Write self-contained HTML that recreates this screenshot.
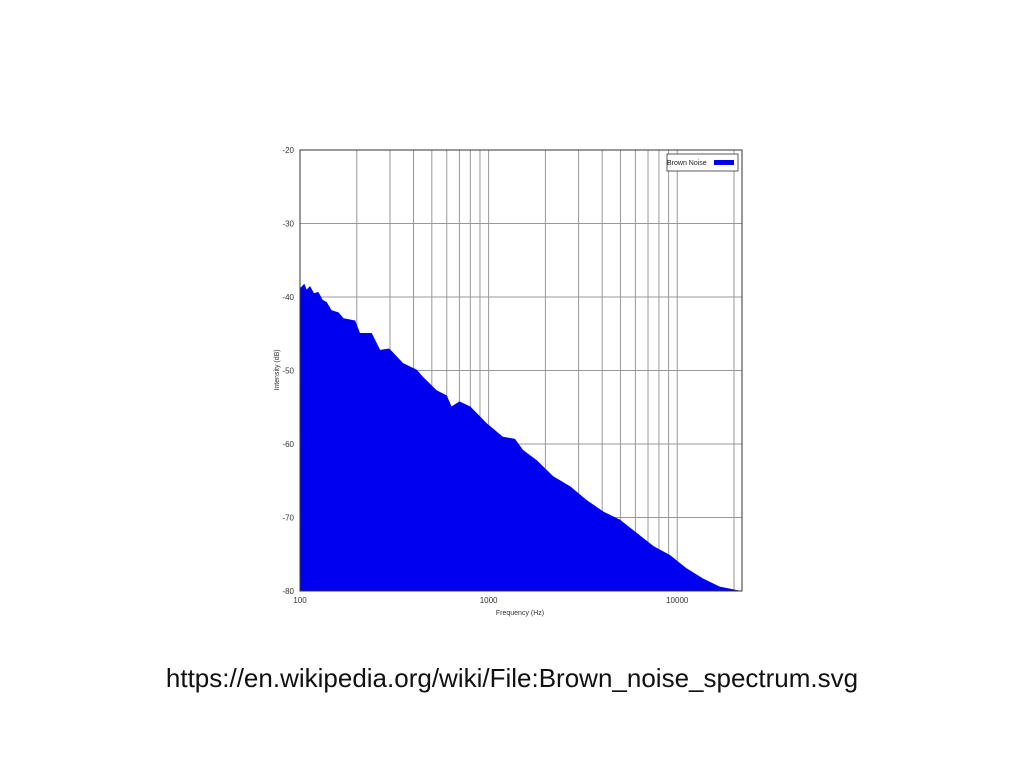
<!DOCTYPE html>
<html><head><meta charset="utf-8"><style>
body{margin:0;background:#fff;width:1024px;height:768px;overflow:hidden;font-family:"Liberation Sans",sans-serif;}
#cap{position:absolute;left:0;width:1024px;top:663px;text-align:center;font-size:26px;color:#111;}
</style></head><body>
<svg id="chart" width="1024" height="768" style="position:absolute;left:0;top:0" font-family="Liberation Sans, sans-serif"></svg>
<div id="cap">https://en.wikipedia.org/wiki/File:Brown_noise_spectrum.svg</div>
<script>
const freqs=[100,105.4,108.5,113,118.6,125,132,138.5,147,160,170,196,208,240,266,297,352,416,450,530,600,636,700,800,978,1190,1380,1520,1800,2200,2720,3300,4060,4980,6100,7500,9140,11200,13700,16800,21900];
const dbVals=[-38.8,-38.2,-39.0,-38.5,-39.5,-39.3,-40.4,-40.7,-41.8,-42.1,-42.9,-43.2,-44.9,-44.9,-47.2,-47.0,-49.0,-49.9,-50.9,-52.7,-53.4,-54.9,-54.2,-54.9,-57.2,-59.0,-59.3,-60.8,-62.2,-64.4,-65.8,-67.6,-69.2,-70.3,-72.1,-73.9,-75.1,-76.9,-78.3,-79.4,-80];
const yTicks=[-20,-30,-40,-50,-60,-70,-80];
const xTickLabels=[100,1000,10000];
const xGrid=[200,300,400,500,600,700,800,900,1000,2000,3000,4000,5000,6000,7000,8000,9000,10000,20000];
const L=300,R=742,T=150,B=591,FMIN=100,FMAX=22050;
const sx=f=>L+(Math.log10(f)-Math.log10(FMIN))/(Math.log10(FMAX)-Math.log10(FMIN))*(R-L);
const sy=d=>T+(-20-d)/60*(B-T);
const svg=document.getElementById('chart');
const NS='http://www.w3.org/2000/svg';
function mk(t,a,p){const e=document.createElementNS(NS,t);for(const k in a)e.setAttribute(k,a[k]);(p||svg).appendChild(e);return e;}
const grid=mk('g',{});


xGrid.forEach(f=>{const l=mk('line',{x1:sx(f),x2:sx(f),y1:T,y2:B,stroke:'#999','stroke-width':1},grid);

});
yTicks.forEach(d=>{const l=mk('line',{x1:L,x2:R,y1:sy(d),y2:sy(d),stroke:'#999','stroke-width':1},grid);


const t=mk('text',{x:294,y:sy(d)+3,'font-size':8,'text-anchor':'end',fill:'#333'});t.textContent=d;

});
xTickLabels.forEach(f=>{const t=mk('text',{x:sx(f),y:603,'font-size':8,'text-anchor':'middle',fill:'#333'});t.textContent=f;

});
let d='M'+L+','+B;
freqs.forEach((f,i)=>{d+=' L'+sx(f).toFixed(1)+','+sy(dbVals[i]).toFixed(1);});
d+=' L'+R+','+B+' Z';
const area=mk('path',{d:d,fill:'#0000f0'});


const frame=mk('rect',{x:L,y:T,width:R-L,height:B-T,fill:'none',stroke:'#333','stroke-width':1});


const yt=mk('text',{x:0,y:0,'font-size':7,'text-anchor':'middle',fill:'#333',transform:'translate(279,370) rotate(-90)'});yt.textContent='Intensity (dB)';


const xt=mk('text',{x:520,y:615,'font-size':7,'text-anchor':'middle',fill:'#333'});xt.textContent='Frequency (Hz)';


const lg=mk('g',{});


mk('rect',{x:667,y:154,width:71,height:17,fill:'#fff',stroke:'#333','stroke-width':0.8},lg);
const lt=mk('text',{x:667,y:165,'font-size':7,fill:'#222'},lg);lt.textContent='Brown Noise';


const ls=mk('rect',{x:714,y:160,width:20,height:5,fill:'#0000f0'},lg);


</script>
</body></html>
